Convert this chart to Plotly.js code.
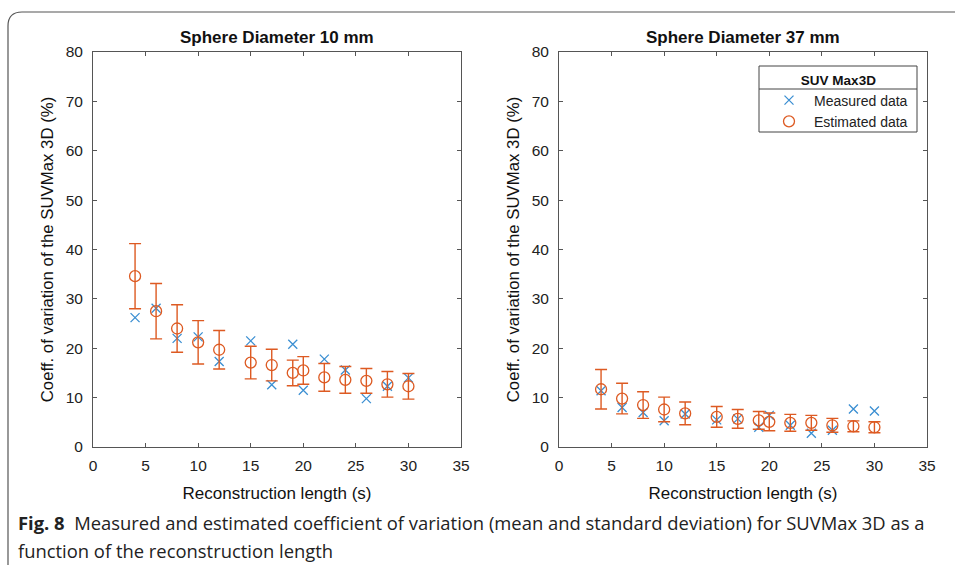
<!DOCTYPE html>
<html>
<head>
<meta charset="utf-8">
<script src="https://cdn.plot.ly/plotly-3.0.1.min.js"></script>
<style>
html,body{margin:0;padding:0;background:#fff;}
#chart{width:955px;height:565px;}
</style>
</head>
<body>
<div id="chart"></div>
<script>
// ---- data ----
const recLength = [4, 6, 8, 10, 12, 15, 17, 19, 20, 22, 24, 26, 28, 30];

// Sphere diameter 10 mm
const measured10 = [26.2, 28.1, 22.0, 22.3, 17.3, 21.5, 12.6, 20.8, 11.5, 17.8, 15.6, 9.8, 12.3, 14.0];
const estMean10  = [34.6, 27.5, 24.0, 21.2, 19.7, 17.1, 16.6, 15.0, 15.5, 14.1, 13.6, 13.4, 12.7, 12.3];
const estSd10    = [6.6, 5.6, 4.8, 4.4, 3.9, 3.3, 3.2, 2.6, 2.8, 2.8, 2.7, 2.5, 2.6, 2.6];

// Sphere diameter 37 mm
const measured37 = [11.4, 8.0, 7.0, 5.3, 6.7, 5.5, 5.7, 4.0, 6.4, 4.4, 2.8, 3.4, 7.7, 7.3];
const estMean37  = [11.7, 9.8, 8.5, 7.6, 6.8, 6.1, 5.7, 5.4, 5.1, 4.9, 4.9, 4.4, 4.2, 4.0];
const estSd37    = [4.0, 3.1, 2.7, 2.5, 2.3, 2.1, 1.9, 1.8, 1.8, 1.7, 1.5, 1.4, 1.1, 1.1];

const xTicks = [0, 5, 10, 15, 20, 25, 30, 35];
const yTicks = [0, 10, 20, 30, 40, 50, 60, 70, 80];

const panelTitles = ['Sphere Diameter 10 mm', 'Sphere Diameter 37 mm'];
const xTitle = 'Reconstruction length (s)';
const yTitle = 'Coeff. of variation of the SUVMax 3D (%)';
const legendTitle = 'SUV Max3D';
const seriesNames = ['Measured data', 'Estimated data'];
const captionLine1 = '<b>Fig. 8</b>  Measured and estimated coefficient of variation (mean and standard deviation) for SUVMax 3D as a';
const captionLine2 = 'function of the reconstruction length';

// ---- styling ----
const W = 955, H = 565;
const px = v => v / W;
const py = v => 1 - v / H;
const BLUE = '#3b8fd2';
const ORANGE = '#dd5a22';
const FONT = 'Liberation Sans, Arial, sans-serif';

function measuredTrace(y, xa, ya, show) {
  return {
    x: recLength, y: y, xaxis: xa, yaxis: ya, type: 'scatter', mode: 'markers',
    name: seriesNames[0], showlegend: show, legendrank: 1,
    marker: {symbol: 'x-thin-open', size: 9, color: BLUE, line: {color: BLUE, width: 1.3}},
    hoverinfo: 'x+y'
  };
}
function estimatedTrace(y, sd, xa, ya, show) {
  return {
    x: recLength, y: y, xaxis: xa, yaxis: ya, type: 'scatter', mode: 'markers',
    name: seriesNames[1], showlegend: show, legendrank: 2,
    marker: {symbol: 'circle-open', size: 11, color: ORANGE, line: {color: ORANGE, width: 1.3}},
    error_y: {type: 'data', array: sd, visible: true, color: ORANGE, thickness: 1.4, width: 6},
    hoverinfo: 'x+y'
  };
}

const data = [
  measuredTrace(measured10, 'x', 'y', false),
  estimatedTrace(estMean10, estSd10, 'x', 'y', false),
  measuredTrace(measured37, 'x2', 'y2', true),
  estimatedTrace(estMean37, estSd37, 'x2', 'y2', true)
];

const yDom = [py(447), py(52)];
function xAxis(dom) {
  return {
    domain: dom, range: [0, 35], tickvals: xTicks, ticktext: xTicks.map(String),
    ticks: 'inside', ticklen: 4, tickcolor: '#555', mirror: 'ticks', showline: true,
    linecolor: '#555', linewidth: 1, showgrid: false, zeroline: false,
    tickfont: {family: FONT, size: 15.5, color: '#222'}, ticklabelstandoff: 4,
    title: {text: xTitle, font: {family: FONT, size: 17, color: '#111'}, standoff: 14},
    fixedrange: true
  };
}
function yAxis(anchor) {
  return {
    domain: yDom, range: [0, 80], tickvals: yTicks, ticktext: yTicks.map(String),
    anchor: anchor,
    ticks: 'inside', ticklen: 4, tickcolor: '#555', mirror: 'ticks', showline: true,
    linecolor: '#555', linewidth: 1, showgrid: false, zeroline: false,
    tickfont: {family: FONT, size: 15.5, color: '#222'}, ticklabelstandoff: 6,
    title: {text: yTitle, font: {family: FONT, size: 16.8, color: '#111'}, standoff: 7},
    fixedrange: true
  };
}

const layout = {
  width: W, height: H,
  margin: {l: 0, r: 0, t: 0, b: 0},
  paper_bgcolor: '#fff', plot_bgcolor: '#fff',
  font: {family: FONT, color: '#111'},
  xaxis: xAxis([px(93), px(461)]),
  yaxis: yAxis('x'),
  xaxis2: Object.assign(xAxis([px(559), px(927)]), {anchor: 'y2'}),
  yaxis2: yAxis('x2'),
  showlegend: true,
  legend: {
    x: px(764), y: py(67), xanchor: 'left', yanchor: 'top',
    bgcolor: 'rgba(0,0,0,0)', borderwidth: 0,
    font: {family: FONT, size: 14, color: '#222'},
    title: {text: '<b>' + legendTitle + '</b>', side: 'top center', font: {family: FONT, size: 13.5, color: '#111'}},
    tracegroupgap: 0, itemwidth: 40
  },
  shapes: [
    // legend box and header divider
    {type: 'rect', xref: 'paper', yref: 'paper', x0: px(759), x1: px(917), y0: py(66), y1: py(132),
     line: {color: '#444', width: 1}, fillcolor: '#fff', layer: 'below'},
    {type: 'line', xref: 'paper', yref: 'paper', x0: px(759), x1: px(917), y0: py(89), y1: py(89),
     line: {color: '#444', width: 1}},
    // figure frame (rounded top-left corner)
    {type: 'path', xref: 'paper', yref: 'paper',
     path: 'M ' + px(8) + ',' + py(565) + ' L ' + px(8) + ',' + py(26) +
           ' Q ' + px(8) + ',' + py(12) + ' ' + px(22) + ',' + py(12) +
           ' L ' + px(955) + ',' + py(12),
     line: {color: '#555', width: 1.2}}
  ],
  annotations: [
    {text: '<b>' + panelTitles[0] + '</b>', xref: 'paper', yref: 'paper', x: px(277), y: py(38),
     xanchor: 'center', yanchor: 'middle', showarrow: false, font: {family: FONT, size: 17, color: '#111'}},
    {text: '<b>' + panelTitles[1] + '</b>', xref: 'paper', yref: 'paper', x: px(743), y: py(37),
     xanchor: 'center', yanchor: 'middle', showarrow: false, font: {family: FONT, size: 17, color: '#111'}},
    {text: captionLine1, xref: 'paper', yref: 'paper', x: px(16), y: py(522),
     xanchor: 'left', yanchor: 'middle', showarrow: false, font: {family: 'Open Sans, sans-serif', size: 18.4, color: '#222'}},
    {text: captionLine2, xref: 'paper', yref: 'paper', x: px(16), y: py(550),
     xanchor: 'left', yanchor: 'middle', showarrow: false, font: {family: 'Open Sans, sans-serif', size: 18.4, color: '#222'}}
  ]
};

Plotly.newPlot('chart', data, layout, {displayModeBar: false, staticPlot: false});
</script>
</body>
</html>
